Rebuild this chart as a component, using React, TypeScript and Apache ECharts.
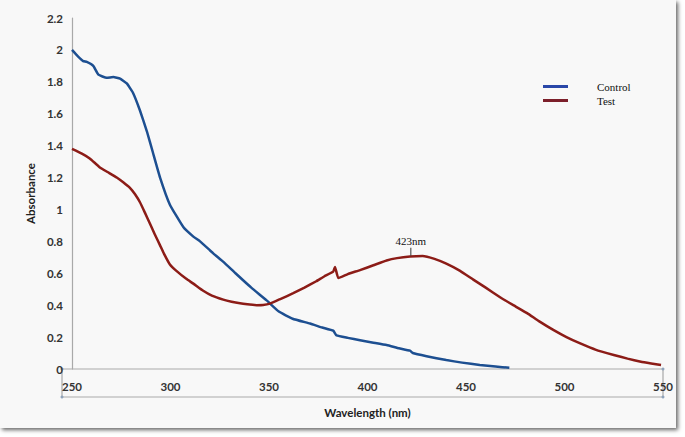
import React, { useEffect, useRef } from "react";
import * as echarts from "echarts";

const xTicks = [250, 300, 350, 400, 450, 500, 550];
const yTicks = [0, 0.2, 0.4, 0.6, 0.8, 1, 1.2, 1.4, 1.6, 1.8, 2, 2.2];

const controlWavelength = [
  250, 253, 255.7, 257.5, 260.8, 263.4, 267.6, 271, 274.4, 277.8, 281,
  284.5, 288, 291, 294.7, 299.7, 306.5, 311.6, 315, 321.7, 327,
  333, 341, 348.8, 355, 362, 370.8, 377, 382.6, 384.3, 390,
  396.2, 403, 409.7, 416, 421.6, 423, 430, 440, 448, 457,
  465, 472,
];
const controlAbs = [
  2.0, 1.96, 1.93, 1.925, 1.9, 1.845, 1.825, 1.83, 1.82, 1.79, 1.73,
  1.62, 1.49, 1.36, 1.2, 1.03, 0.89, 0.83, 0.8, 0.725, 0.67,
  0.6, 0.51, 0.43, 0.36, 0.315, 0.285, 0.26, 0.24, 0.21, 0.195,
  0.18, 0.165, 0.15, 0.13, 0.115, 0.1, 0.08, 0.056, 0.04, 0.025,
  0.015, 0.008,
];

const testWavelength = [
  250, 255, 259, 264, 268, 272.7, 276, 279.4, 282, 284.5,
  287, 289.6, 292, 294.7, 297, 299.7, 303, 308, 311.6, 316.6,
  321, 326.8, 331, 335.3, 339, 343.8, 347, 350.5, 356, 362.3,
  368, 374, 378, 382.6, 383.5, 385.2, 390, 396.2, 403, 409.7,
  415, 421.6, 428, 434, 440, 447, 453.7, 460, 467.3, 474,
  481, 487, 494.3, 501, 508, 516, 525, 532, 538.8, 544,
  549,
];
const testAbs = [
  1.38, 1.35, 1.32, 1.265, 1.235, 1.2, 1.17, 1.135, 1.095, 1.045,
  0.98, 0.91, 0.845, 0.775, 0.715, 0.655, 0.615, 0.565, 0.535, 0.49,
  0.46, 0.435, 0.422, 0.412, 0.406, 0.4, 0.401, 0.41, 0.44, 0.475,
  0.51, 0.55, 0.58, 0.61, 0.64, 0.57, 0.595, 0.62, 0.65, 0.68,
  0.695, 0.705, 0.708, 0.69, 0.66, 0.615, 0.56, 0.51, 0.45, 0.4,
  0.35, 0.3, 0.245, 0.2, 0.16, 0.12, 0.088, 0.065, 0.046, 0.035,
  0.025,
];

const peakWavelength = 422;
const peakAbs = 0.71;
const peakLabel = "423nm";

export default function App() {
  const ref = useRef<HTMLDivElement>(null);

  useEffect(() => {
    if (!ref.current) return;
    const chart = echarts.init(ref.current, null, { renderer: "svg" });
    const axisColor = "#a9a9a9";
    const labelFont = {
      fontFamily: "Lato, 'Open Sans', sans-serif",
      fontWeight: "bold" as const,
      fontSize: 11.5,
      color: "#333",
    };
    chart.setOption({
      animation: false,
      backgroundColor: "transparent",
      grid: { left: 72, right: 22, top: 18, bottom: 68, containLabel: false },
      legend: {
        data: ["Control", "Test"],
        orient: "vertical",
        left: 538,
        top: 76,
        itemWidth: 25,
        itemHeight: 3,
        itemGap: 3,
        icon: "rect",
        textStyle: {
          fontFamily: "'Liberation Serif', serif",
          fontSize: 11,
          color: "#111",
          padding: [0, 0, 0, 24],
        },
      },
      xAxis: {
        type: "value",
        min: xTicks[0],
        max: xTicks[xTicks.length - 1],
        interval: 50,
        name: "Wavelength (nm)",
        nameLocation: "middle",
        nameGap: 37,
        nameTextStyle: { ...labelFont, color: "#222" },
        axisLine: { show: false },
        axisTick: { show: false },
        splitLine: { show: false },
        axisLabel: { ...labelFont, margin: 11 },
      },
      yAxis: {
        type: "value",
        min: yTicks[0],
        max: yTicks[yTicks.length - 1],
        interval: 0.2,
        name: "Absorbance",
        nameLocation: "middle",
        nameGap: 36,
        nameRotate: 90,
        nameTextStyle: { ...labelFont, color: "#222" },
        axisLine: { show: true, lineStyle: { color: axisColor, width: 1.2 } },
        axisTick: { show: false },
        splitLine: { show: false },
        axisLabel: { ...labelFont, margin: 9 },
      },
      graphic: [
        {
          type: "rect",
          shape: { x: 62, y: 369, width: 601, height: 28 },
          style: { fill: "none", stroke: axisColor, lineWidth: 1.2 },
          silent: true,
        },
        { type: "circle", shape: { cx: 62, cy: 369, r: 1.5 }, style: { fill: "#8fa3bb" } },
        { type: "circle", shape: { cx: 663, cy: 369, r: 1.5 }, style: { fill: "#8fa3bb" } },
        { type: "circle", shape: { cx: 62, cy: 397, r: 1.5 }, style: { fill: "#8fa3bb" } },
        { type: "circle", shape: { cx: 663, cy: 397, r: 1.5 }, style: { fill: "#8fa3bb" } },
      ],
      series: [
        {
          name: "Control",
          type: "line",
          data: controlWavelength.map((w, i) => [w, controlAbs[i]]),
          showSymbol: false,
          smooth: 0.12,
          lineStyle: { color: "#1d4f91", width: 2.5, join: "round" },
          itemStyle: { color: "#2a47a8" },
        },
        {
          name: "Test",
          type: "line",
          data: testWavelength.map((w, i) => [w, testAbs[i]]),
          showSymbol: false,
          smooth: 0.12,
          lineStyle: { color: "#8c1c17", width: 2.5, join: "round" },
          itemStyle: { color: "#7c1f2a" },
          markPoint: {
            symbol: "rect",
            symbolSize: [1, 8],
            symbolOffset: [0, -4],
            itemStyle: { color: "#333" },
            label: {
              show: true,
              position: "top",
              distance: 1,
              formatter: peakLabel,
              fontFamily: "'Liberation Serif', serif",
              fontSize: 11,
              color: "#111",
            },
            data: [{ coord: [peakWavelength, peakAbs] }],
          },
        },
      ],
    });
    return () => chart.dispose();
  }, []);

  return (
    <div style={{ position: "fixed", left: 0, top: 0, width: 685, height: 437, background: "#ffffff" }}>
      <div
        style={{
          position: "absolute",
          left: 0,
          top: 0,
          width: 676,
          height: 428,
          background: "#f8f8f8",
          boxShadow: "2px 2px 4px #666",
        }}
      />
      <div ref={ref} style={{ position: "absolute", left: 0, top: 0, width: 685, height: 437 }} />
    </div>
  );
}
